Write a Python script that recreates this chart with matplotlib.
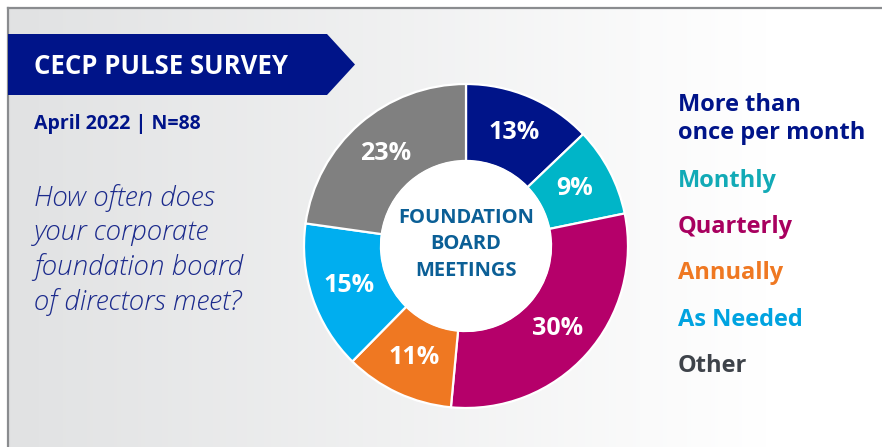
import numpy as np
import matplotlib.pyplot as plt
from matplotlib.patches import Polygon

# Survey data
categories = ['More than\nonce per month', 'Monthly', 'Quarterly', 'Annually', 'As Needed', 'Other']
values = [13, 9, 30, 11, 15, 23]
slice_colors = ['#001489', '#00b5c8', '#b5006a', '#ef7822', '#00aeef', '#808080']
legend_colors = ['#001489', '#12aab6', '#a8005f', '#ef7822', '#00a3e0', '#3e434a']

title = 'CECP PULSE SURVEY'
subtitle = 'April 2022 | N=88'
question = 'How often does\nyour corporate\nfoundation board\nof directors meet?'
center_label = 'FOUNDATION\nBOARD\nMEETINGS'

plt.rcParams['font.family'] = ['Open Sans', 'DejaVu Sans']

W, H = 882, 447
fig = plt.figure(figsize=(W / 100, H / 100), dpi=100)
fig.patch.set_facecolor('white')

# pixel-coordinate axes for the panel decorations
bg = fig.add_axes([0, 0, 1, 1])
bg.set_xlim(0, W)
bg.set_ylim(H, 0)
bg.axis('off')

# background gradient, light grey on the left fading to white
grad = np.linspace(0, 1, 256)
c0 = np.array([0.882, 0.886, 0.890])
c1 = np.array([1.0, 1.0, 1.0])
t = np.clip(grad * 1.15, 0, 1)[None, :, None]
img = c0 + (c1 - c0) * t
bg.imshow(img, extent=[8, W, H, 8], aspect='auto', zorder=0)

# frame lines
bg.plot([8, W], [8, 8], color='#8a8c8f', lw=1.6, zorder=2)
bg.plot([8, 8], [8, H], color='#8a8c8f', lw=1.6, zorder=2)

# title banner
banner = Polygon([[8, 34], [327, 34], [355, 64.5], [327, 95], [8, 95]],
                 closed=True, facecolor='#001489', edgecolor='none', zorder=3)
bg.add_patch(banner)
bg.text(34, 67, title, color='white', fontsize=18.5, fontweight='bold',
        ha='left', va='center', zorder=4)
bg.text(34, 124, subtitle, color='#001489', fontsize=14, fontweight='bold',
        ha='left', va='center', zorder=4)
bg.text(34, 184, question, color='#1b2a8c', fontsize=20, fontstyle='italic',
        fontweight='light', ha='left', va='top', linespacing=1.33, zorder=4)

# legend-like labels on the right
legend_y = [119, 181, 227, 273, 320, 366]
for lab, col, y in zip(categories, legend_colors, legend_y):
    bg.text(678, y, lab, color=col, fontsize=17, fontweight='bold',
            ha='left', va='center', linespacing=1.2, zorder=4)

# donut chart
cx, cy, r = 466, 246, 162
half = 168
ax = fig.add_axes([(cx - half) / W, (H - cy - half) / H, 2 * half / W, 2 * half / H])
ax.axis('off')

wedges, _ = ax.pie(values, colors=slice_colors, startangle=90, counterclock=False,
                   radius=1.0, wedgeprops=dict(width=0.475, edgecolor='white', linewidth=1.6))
ax.add_patch(plt.Circle((0, 0), 0.525, color='white', zorder=1))
ax.set_xlim(-half / r, half / r)
ax.set_ylim(-half / r, half / r)
ax.set_aspect('equal')

for w, v in zip(wedges, values):
    ang = np.deg2rad((w.theta1 + w.theta2) / 2)
    rr = 0.76
    ax.text(rr * np.cos(ang), rr * np.sin(ang), f'{v}%', color='white',
            fontsize=18, fontweight='bold', ha='center', va='center')

ax.text(0, 0.01, center_label, color='#0b5f96', fontsize=14.5, fontweight='bold',
        ha='center', va='center', linespacing=1.42)

fig.savefig('out.png', dpi=100)
